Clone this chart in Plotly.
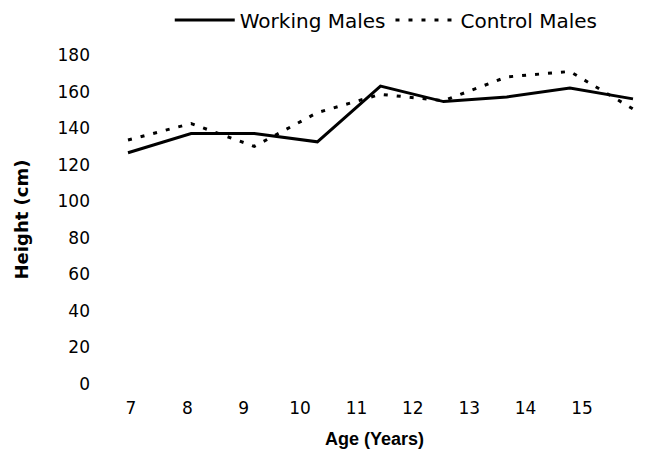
import plotly.graph_objects as go

ages = [7, 8, 9, 10, 11, 12, 13, 14, 15]
working_males = [126.5, 137, 137, 132.5, 163, 154.5, 157, 162, 156]
control_males = [133.5, 142.5, 130, 148.5, 158.5, 155, 168, 171, 150.5]
y_ticks = [0, 20, 40, 60, 80, 100, 120, 140, 160, 180]

TICK_FONT = "DejaVu Sans, Liberation Sans, sans-serif"
TITLE_FONT = "Liberation Sans, Arial, sans-serif"

fig = go.Figure()
fig.add_trace(go.Scatter(
    x=ages, y=working_males, name="Working Males", mode="lines",
    line=dict(color="black", width=3),
))
fig.add_trace(go.Scatter(
    x=ages, y=control_males, name="Control Males", mode="lines",
    line=dict(color="black", width=3, dash="4px,9px"),
))
# empty carrier so the printed age scale (x2) is rendered
fig.add_trace(go.Scatter(
    x=[], y=[], xaxis="x2", showlegend=False, hoverinfo="skip", mode="lines",
))

fig.update_layout(
    width=647, height=450,
    margin=dict(l=93, r=7, t=47, b=74, autoexpand=False),
    paper_bgcolor="white", plot_bgcolor="white",
    font=dict(family=TICK_FONT, size=17, color="black"),
    showlegend=True,
    legend=dict(
        orientation="h", xref="container", yref="container",
        x=0.25, xanchor="left", y=0.9733, yanchor="middle",
        font=dict(size=20), itemwidth=60, bgcolor="rgba(0,0,0,0)",
    ),
    # scale the plotted series are drawn on
    xaxis=dict(
        range=[6.5723, 15.2376], showticklabels=False,
        showgrid=False, zeroline=False, showline=False, ticks="",
    ),
    # printed age scale
    xaxis2=dict(
        range=[6.468, 16.171], tickvals=ages,
        overlaying="x", side="bottom", anchor="y",
        showgrid=False, zeroline=False, showline=False, ticks="",
        ticklabelstandoff=12,
        title=dict(text="<b>Age (Years)</b>",
                   font=dict(family=TITLE_FONT, size=18), standoff=15),
    ),
    yaxis=dict(
        range=[0, 180], tickvals=y_ticks,
        showgrid=False, zeroline=False, showline=False, ticks="",
        ticklabelstandoff=10,
        title=dict(text="<b>Height (cm)</b>",
                   font=dict(family=TICK_FONT, size=18), standoff=24),
    ),
)

fig.write_html("out.html")
